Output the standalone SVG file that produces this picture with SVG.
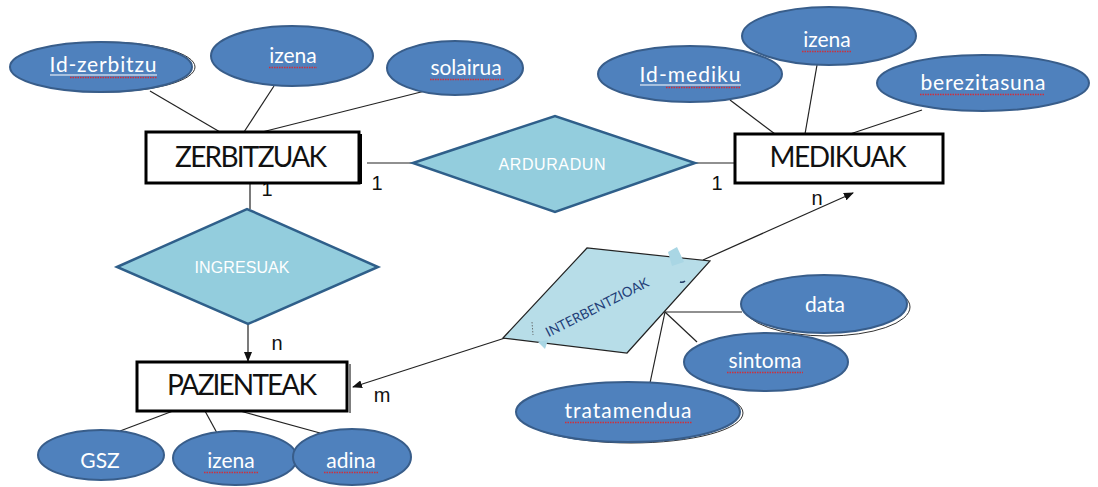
<svg xmlns="http://www.w3.org/2000/svg" width="1098" height="487" viewBox="0 0 1098 487">
  <style>
    .attr { fill: #4f81bd; stroke: #385d8a; stroke-width: 2; }
    .shadow { fill: none; stroke: #333; stroke-width: 1; }
    .atxt { font-family: Lato, "Open Sans", sans-serif; font-size: 21px; fill: #ffffff; text-anchor: middle; }
    .ent { fill: #ffffff; stroke: #000; stroke-width: 3; }
    .etxt { font-family: Lato, "Open Sans", sans-serif; font-size: 28px; fill: #111; text-anchor: middle; }
    .rel { fill: #93cddd; stroke: #2f5f8a; stroke-width: 2.5; }
    .rtxt { font-family: "Liberation Sans", Arial, sans-serif; font-size: 16px; fill: #ffffff; text-anchor: middle; }
    .card { font-family: "Liberation Sans", Arial, sans-serif; font-size: 20px; fill: #111; text-anchor: middle; }
    .conn { stroke: #222; stroke-width: 1.2; fill: none; }
    .ul { stroke: #ffffff; stroke-width: 1.2; }
    .wavy { stroke: #d0303c; stroke-width: 1.6; stroke-dasharray: 1.5 1; fill: none; }
  </style>
  <defs>
    <marker id="arrow" markerWidth="10" markerHeight="8" refX="9" refY="4" orient="auto" markerUnits="userSpaceOnUse">
      <path d="M0,0 L10,4 L0,8 Z" fill="#111"/>
    </marker>
  </defs>
  <rect width="1098" height="487" fill="#ffffff"/>

  <!-- connectors -->
  <g id="connectors">
    <line class="conn" x1="150" y1="91" x2="220" y2="132"/>
    <line class="conn" x1="274" y1="86" x2="244" y2="132"/>
    <line class="conn" x1="425" y1="91" x2="262" y2="132"/>
    <line class="conn" x1="730" y1="100" x2="775" y2="134"/>
    <line class="conn" x1="817" y1="65" x2="805" y2="134"/>
    <line class="conn" x1="922" y1="110" x2="850" y2="134"/>
    <line class="conn" x1="367" y1="163" x2="413" y2="163"/>
    <line class="conn" x1="695" y1="163" x2="735" y2="163"/>
    <line class="conn" x1="250" y1="183" x2="250" y2="209"/>
    <line class="conn" x1="248" y1="324" x2="248" y2="361" marker-end="url(#arrow)"/>
    <line class="conn" x1="505" y1="338" x2="353" y2="387" marker-end="url(#arrow)"/>
    <line class="conn" x1="703" y1="260" x2="853" y2="193" marker-end="url(#arrow)"/>
    <line class="conn" x1="665" y1="312" x2="742" y2="312"/>
    <line class="conn" x1="665" y1="312" x2="697" y2="342"/>
    <line class="conn" x1="665" y1="312" x2="650" y2="383"/>
    <line class="conn" x1="173" y1="411" x2="120" y2="431"/>
    <line class="conn" x1="205" y1="411" x2="217" y2="433"/>
    <line class="conn" x1="240" y1="411" x2="320" y2="433"/>
  </g>

  <!-- cardinalities -->
  <g id="cardinalities">
    <text class="card" x="267" y="196">1</text>
    <text class="card" x="377" y="190">1</text>
    <text class="card" x="717" y="190">1</text>
    <text class="card" x="817" y="205">n</text>
    <text class="card" x="277" y="350">n</text>
    <text class="card" x="382" y="402">m</text>
  </g>

  <!-- ZERBITZUAK entity and attributes -->
  <g id="attr-id-zerbitzu">
    <ellipse class="shadow" cx="104" cy="67" rx="91" ry="25"/>
    <ellipse class="attr" cx="101" cy="67" rx="91" ry="25"/>
    <text class="atxt" x="103" y="72" textLength="107">Id-zerbitzu</text>
    <line class="ul" x1="50" y1="75" x2="157" y2="75"/>
    <line class="wavy" x1="70" y1="77.5" x2="157" y2="77.5"/>
  </g>
  <g id="attr-izena-zerbitzu">
    <ellipse class="attr" cx="292" cy="56" rx="81" ry="30"/>
    <text class="atxt" x="293" y="63">izena</text>
    <line class="wavy" x1="269" y1="67.5" x2="317" y2="67.5"/>
  </g>
  <g id="attr-solairua">
    <ellipse class="attr" cx="455" cy="68" rx="68" ry="27"/>
    <text class="atxt" x="466" y="75">solairua</text>
    <line class="wavy" x1="430" y1="79.5" x2="504" y2="79.5"/>
  </g>
  <g id="ZERBITZUAK">
    <line x1="361" y1="134" x2="361" y2="184" stroke="#000" stroke-width="2"/>
    <rect class="ent" x="146" y="132" width="213" height="51"/>
    <text class="etxt" x="251" y="167" textLength="152">ZERBITZUAK</text>
  </g>

  <!-- ARDURADUN relationship -->
  <g id="ARDURADUN">
    <polygon class="rel" points="413,163 555,116 695,163 555,212"/>
    <text class="rtxt" x="552" y="170" textLength="107">ARDURADUN</text>
  </g>

  <!-- MEDIKUAK entity and attributes -->
  <g id="attr-id-mediku">
    <ellipse class="attr" cx="690" cy="74" rx="92" ry="28"/>
    <text class="atxt" x="690" y="82" textLength="101">Id-mediku</text>
    <line class="ul" x1="640" y1="85" x2="741" y2="85"/>
    <line class="wavy" x1="666" y1="87.5" x2="741" y2="87.5"/>
  </g>
  <g id="attr-izena-mediku">
    <ellipse class="attr" cx="829" cy="36" rx="87" ry="29"/>
    <text class="atxt" x="827" y="47">izena</text>
    <line class="wavy" x1="802" y1="51.5" x2="852" y2="51.5"/>
  </g>
  <g id="attr-berezitasuna">
    <ellipse class="attr" cx="983" cy="83" rx="106" ry="28"/>
    <text class="atxt" x="983" y="90" textLength="125">berezitasuna</text>
    <line class="wavy" x1="920" y1="94.5" x2="1045" y2="94.5"/>
  </g>
  <g id="MEDIKUAK">
    <rect class="ent" x="735" y="134" width="208" height="49"/>
    <text class="etxt" x="838" y="167" textLength="137">MEDIKUAK</text>
  </g>

  <!-- INGRESUAK relationship -->
  <g id="INGRESUAK">
    <polygon class="rel" points="117,267 247,209 378,267 248,324"/>
    <text class="rtxt" x="242" y="273" textLength="95">INGRESUAK</text>
  </g>

  <!-- PAZIENTEAK entity and attributes -->
  <g id="PAZIENTEAK">
    <line x1="350" y1="364" x2="350" y2="413" stroke="#000" stroke-width="1"/>
    <rect class="ent" x="137" y="362" width="210" height="49"/>
    <text class="etxt" x="242" y="395" textLength="150">PAZIENTEAK</text>
  </g>
  <g id="attr-GSZ">
    <ellipse class="attr" cx="101" cy="455" rx="63" ry="25"/>
    <text class="atxt" x="100" y="468">GSZ</text>
  </g>
  <g id="attr-izena-pazienteak">
    <ellipse class="attr" cx="235" cy="458" rx="62" ry="27"/>
    <text class="atxt" x="231" y="468">izena</text>
    <line class="wavy" x1="204" y1="472.5" x2="258" y2="472.5"/>
  </g>
  <g id="attr-adina">
    <ellipse class="attr" cx="352" cy="457" rx="59" ry="28"/>
    <text class="atxt" x="351" y="468">adina</text>
    <line class="wavy" x1="324" y1="472.5" x2="378" y2="472.5"/>
  </g>

  <!-- INTERBENTZIOAK relationship and attributes -->
  <g id="INTERBENTZIOAK">
    <polygon points="503,338 587,248 710,261 627,353" fill="#b7dde8" stroke="#222" stroke-width="1.2"/>
    <polygon points="668,252 677,247 684,262 672,266" fill="#a9d6e4"/>
    <path d="M680,282 q3,1 5,-1" stroke="#1f3864" stroke-width="1.5" fill="none"/>
    <polygon points="538,342 548,340 545,349" fill="#a9d6e4"/>
    <line x1="532" y1="322" x2="533" y2="335" stroke="#555" stroke-width="0.8" stroke-dasharray="1.5,1.5"/>
    <text transform="translate(597,307) rotate(-27)" y="5" font-family="Lato, 'Open Sans', sans-serif" font-size="13.5" fill="#1f3f78" text-anchor="middle" textLength="114">INTERBENTZIOAK</text>
  </g>
  <g id="attr-data">
    <ellipse class="shadow" cx="827" cy="307" rx="83" ry="29"/>
    <ellipse class="attr" cx="824" cy="304" rx="83" ry="29"/>
    <text class="atxt" x="825" y="312">data</text>
  </g>
  <g id="attr-sintoma">
    <ellipse class="attr" cx="766" cy="362" rx="82" ry="29"/>
    <text class="atxt" x="765" y="368">sintoma</text>
    <line class="wavy" x1="727" y1="372.5" x2="803" y2="372.5"/>
  </g>
  <g id="attr-tratamendua">
    <ellipse class="shadow" cx="631" cy="413" rx="112" ry="30"/>
    <ellipse class="attr" cx="628" cy="412" rx="112" ry="30"/>
    <text class="atxt" x="628" y="418" textLength="127">tratamendua</text>
    <line class="wavy" x1="565" y1="422.5" x2="692" y2="422.5"/>
  </g>
</svg>
